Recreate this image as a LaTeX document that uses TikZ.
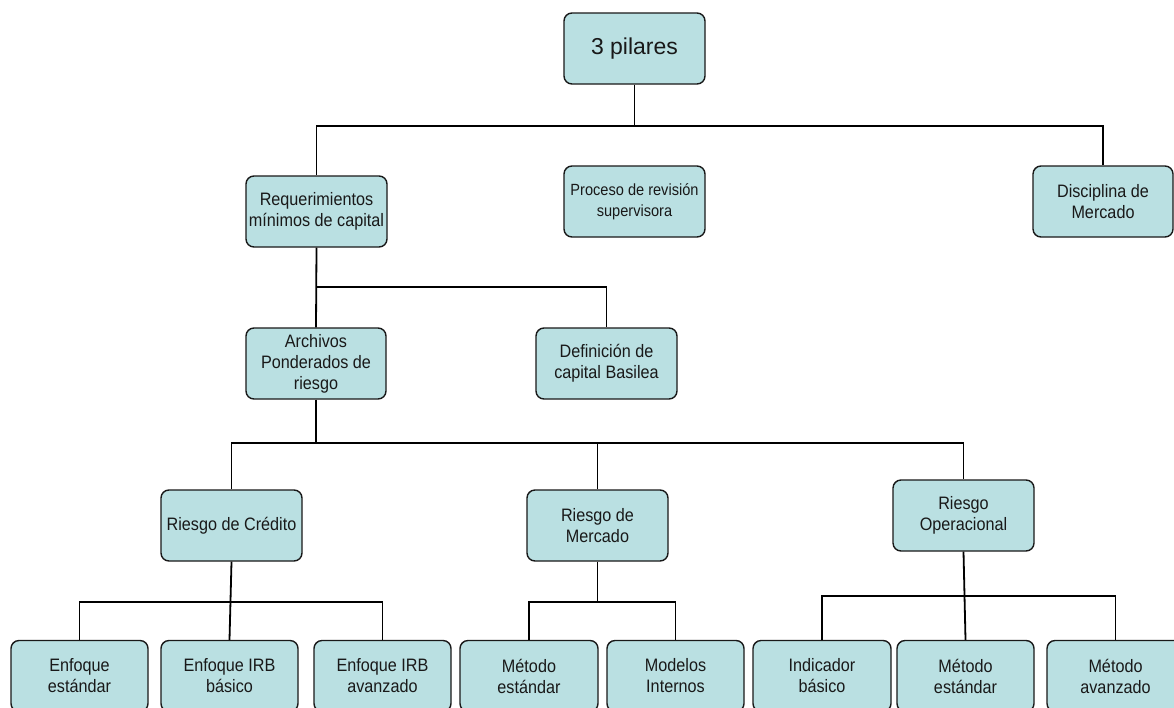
\documentclass[tikz,border=0pt]{standalone}
\usepackage{fontspec}
\setmainfont{Liberation Sans}[FakeStretch=0.9]
\newfontfamily\widefont{Liberation Sans}
\definecolor{boxfill}{RGB}{186,224,226}
\definecolor{boxline}{RGB}{25,25,25}
\begin{document}
\begin{tikzpicture}[x=1pt,y=-1pt,
  box/.style={draw=boxline, line width=1.4pt, fill=boxfill, rounded corners=8pt,
    minimum width=141pt, minimum height=71pt, inner sep=0pt, align=center,
    text=black!90, font=\fontsize{18}{21}\selectfont},
  lowbox/.style={box, minimum width=137pt},
  conn/.style={draw=black, line width=1.8pt},
  thin/.style={draw=black, line width=1.2pt}]
\useasboundingbox (0,0) rectangle (1174,707);
\clip (0,0) rectangle (1174,707);
\fill[white] (0,0) rectangle (1174,707);

\node[box, font=\widefont\fontsize{23}{26}\selectfont] (pil) at (634.5,48.5) {3 pilares};
\node[box] (req) at (316.5,211.5) {Requerimientos\\mínimos de capital};
\node[box, font=\fontsize{16.2}{21}\selectfont] (proc) at (634.5,201.5) {Proceso de revisión\\supervisora};
\node[box, minimum width=140pt] (disc) at (1103,201.5) {Disciplina de\\Mercado};
\node[box, minimum width=140pt] (arch) at (316,363.5) {Archivos\\Ponderados de\\riesgo};
\node[box] (defi) at (606.5,363.5) {Definición de\\capital Basilea};
\node[box] (cred) at (231.5,525.5) {Riesgo de Crédito};
\node[box] (merc) at (597.5,525.5) {Riesgo de\\Mercado};
\node[box] (oper) at (963.5,515.5) {Riesgo\\Operacional};

\node[lowbox] (enfe) at (79.5,676) {Enfoque\\estándar};
\node[lowbox] (irbb) at (229.5,676) {Enfoque IRB\\básico};
\node[lowbox] (irba) at (382.5,676) {Enfoque IRB\\avanzado};
\node[lowbox, minimum width=138pt] (mest) at (529,676) {Método\\estándar};
\node[lowbox] (mint) at (675.5,676) {Modelos\\Internos};
\node[lowbox, minimum width=138pt] (indb) at (822,676) {Indicador\\básico};
\node[lowbox] (mest2) at (965.5,676) {Método\\estándar};
\node[lowbox] (mava) at (1115.5,676) {Método\\avanzado};

\coordinate (b1) at (634.5,126);
\coordinate (b2) at (316.5,287);
\coordinate (b3) at (316,443);
\coordinate (b4) at (231.5,602);
\coordinate (b5) at (597.5,602);
\coordinate (b6) at (963.5,596);

\draw[conn] (pil.south) -- (b1);
\draw[conn] (req.north) |- (b1) -| (disc.north);
\draw[conn] (req.south) -- (arch.north);
\draw[conn] (b2) -| (defi.north);
\draw[conn] (arch.south) -- (b3);
\draw[conn] (cred.north) |- (b3);
\draw[thin] (b3) -| (oper.north);
\draw[thin] (merc.north) -- (merc.north |- b3);
\draw[conn] (cred.south) -- (irbb.north);
\draw[conn] (enfe.north) |- (b4) -| (irba.north);
\draw[conn] (merc.south) -- (b5);
\draw[conn] (mest.north) |- (b5) -| (mint.north);
\draw[conn] (oper.south) -- (mest2.north);
\draw[conn] (indb.north) |- (b6) -| (mava.north);
\end{tikzpicture}
\end{document}
